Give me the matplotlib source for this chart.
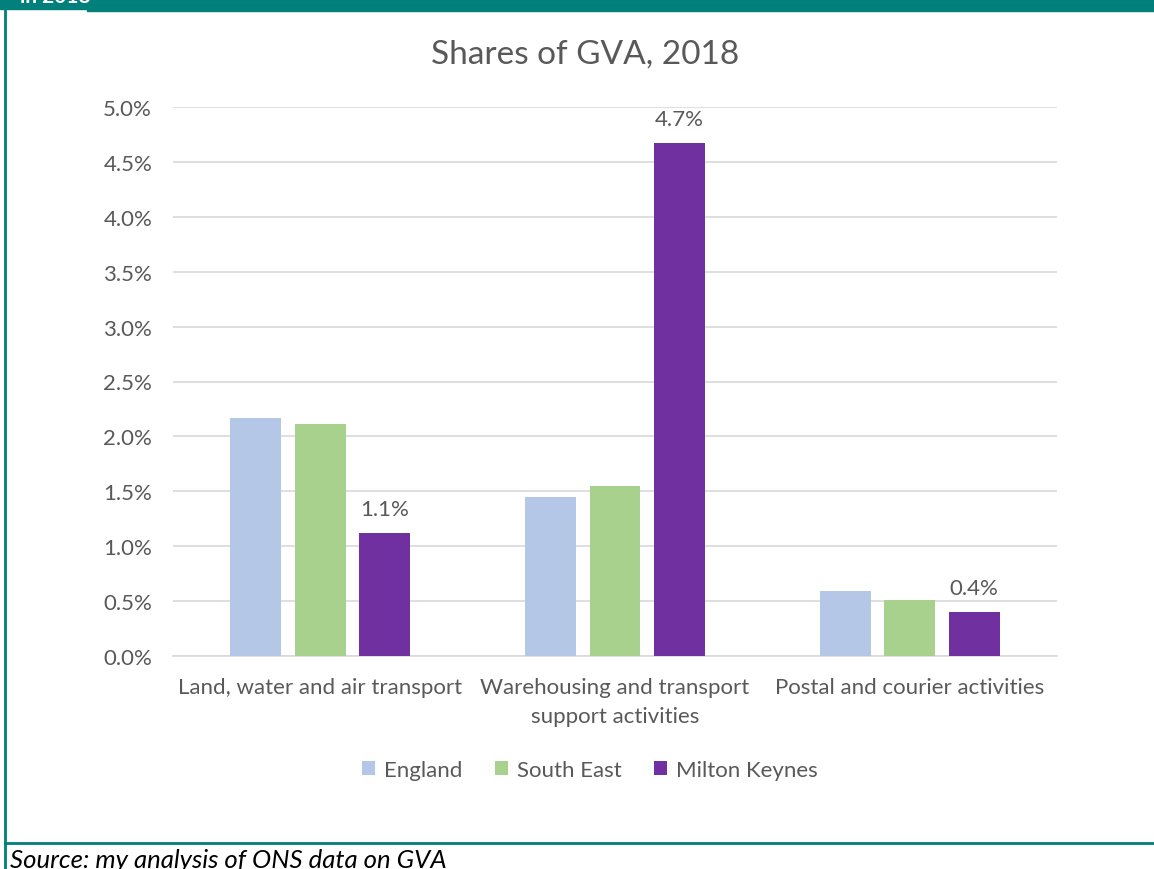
import matplotlib
matplotlib.use("Agg")
import matplotlib.pyplot as plt
from matplotlib.lines import Line2D
from matplotlib.patches import Rectangle
import numpy as np

plt.rcParams['font.family'] = ['Lato', 'DejaVu Sans']

categories = ["Land, water and air transport",
              "Warehousing and transport\nsupport activities",
              "Postal and courier activities"]
series_names = ["England", "South East", "Milton Keynes"]
england = [2.17, 1.45, 0.59]
south_east = [2.11, 1.55, 0.51]
milton_keynes = [1.12, 4.67, 0.40]
mk_labels = ["1.1%", "4.7%", "0.4%"]
yticks = [0.0, 0.5, 1.0, 1.5, 2.0, 2.5, 3.0, 3.5, 4.0, 4.5, 5.0]

colors = ["#B4C7E7", "#A9D18E", "#7030A0"]
text_col = "#595959"
teal = "#007F7B"

W, H = 1154, 870
fig = plt.figure(figsize=(W / 100, H / 100), dpi=100)

# frame decorations
fig.patches.append(Rectangle((0, 1 - 10 / H), 1, 10 / H, transform=fig.transFigure,
                             color=teal, zorder=0))
fig.patches.append(Rectangle((87 / W, 1 - 11.5 / H), 1, 11.5 / H, transform=fig.transFigure,
                             color=teal, zorder=0))
fig.lines.append(Line2D([5 / W, 5 / W], [0, 1], transform=fig.transFigure,
                        color=teal, lw=2))
fig.lines.append(Line2D([5 / W, 1], [1 - 844 / H, 1 - 844 / H], transform=fig.transFigure,
                        color=teal, lw=2))
fig.text(20 / W, 1 - 3 / H, "in 2018", color="white", fontsize=15, fontweight="bold",
         va="baseline", ha="left")
fig.text(10 / W, 1 - 849 / H, "Source: my analysis of ONS data on GVA", fontsize=18.5,
         style="italic", color="black", va="top", ha="left")

ax = fig.add_axes([173 / W, 1 - 657 / H, (1057 - 173) / W, (657 - 108) / H])
x = np.arange(len(categories))
width = 0.173
offset = 0.219
data = [england, south_east, milton_keynes]
for i, (vals, name, c) in enumerate(zip(data, series_names, colors)):
    ax.bar(x + (i - 1) * offset, vals, width, color=c, label=name, zorder=3)

for xi, v, lab in zip(x, milton_keynes, mk_labels):
    ax.annotate(lab, (xi + offset, v), xytext=(0, 10), textcoords="offset points",
                ha="center", va="bottom", fontsize=16, color=text_col)

ax.set_xlim(-0.5, 2.5)
ax.set_ylim(0, 5.0)
ax.set_yticks(yticks)
ax.set_yticklabels([f"{t:.1f}%" for t in yticks])
ax.set_xticks(x)
ax.set_xticklabels(categories, linespacing=1.55)
ax.grid(axis="y", color="#D9D9D9", lw=1.2, zorder=0)
for s in ["top", "right", "left"]:
    ax.spines[s].set_visible(False)
ax.spines["bottom"].set_color("#D9D9D9")
ax.spines["bottom"].set_linewidth(1.2)
ax.tick_params(axis="both", length=0, labelsize=16, colors=text_col)
ax.tick_params(axis="y", pad=15)
ax.tick_params(axis="x", pad=15)

fig.text(585 / W, 1 - 55 / H, "Shares of GVA, 2018", fontsize=24, color=text_col,
         ha="center", va="center")

leg = fig.legend(loc="center", bbox_to_anchor=(590 / W, 1 - 771 / H), ncol=3,
                 frameon=False, fontsize=16, handlelength=0.6, handleheight=0.6,
                 columnspacing=1.45, handletextpad=0.4)
for t in leg.get_texts():
    t.set_color(text_col)

fig.savefig("out.png", dpi=100)
